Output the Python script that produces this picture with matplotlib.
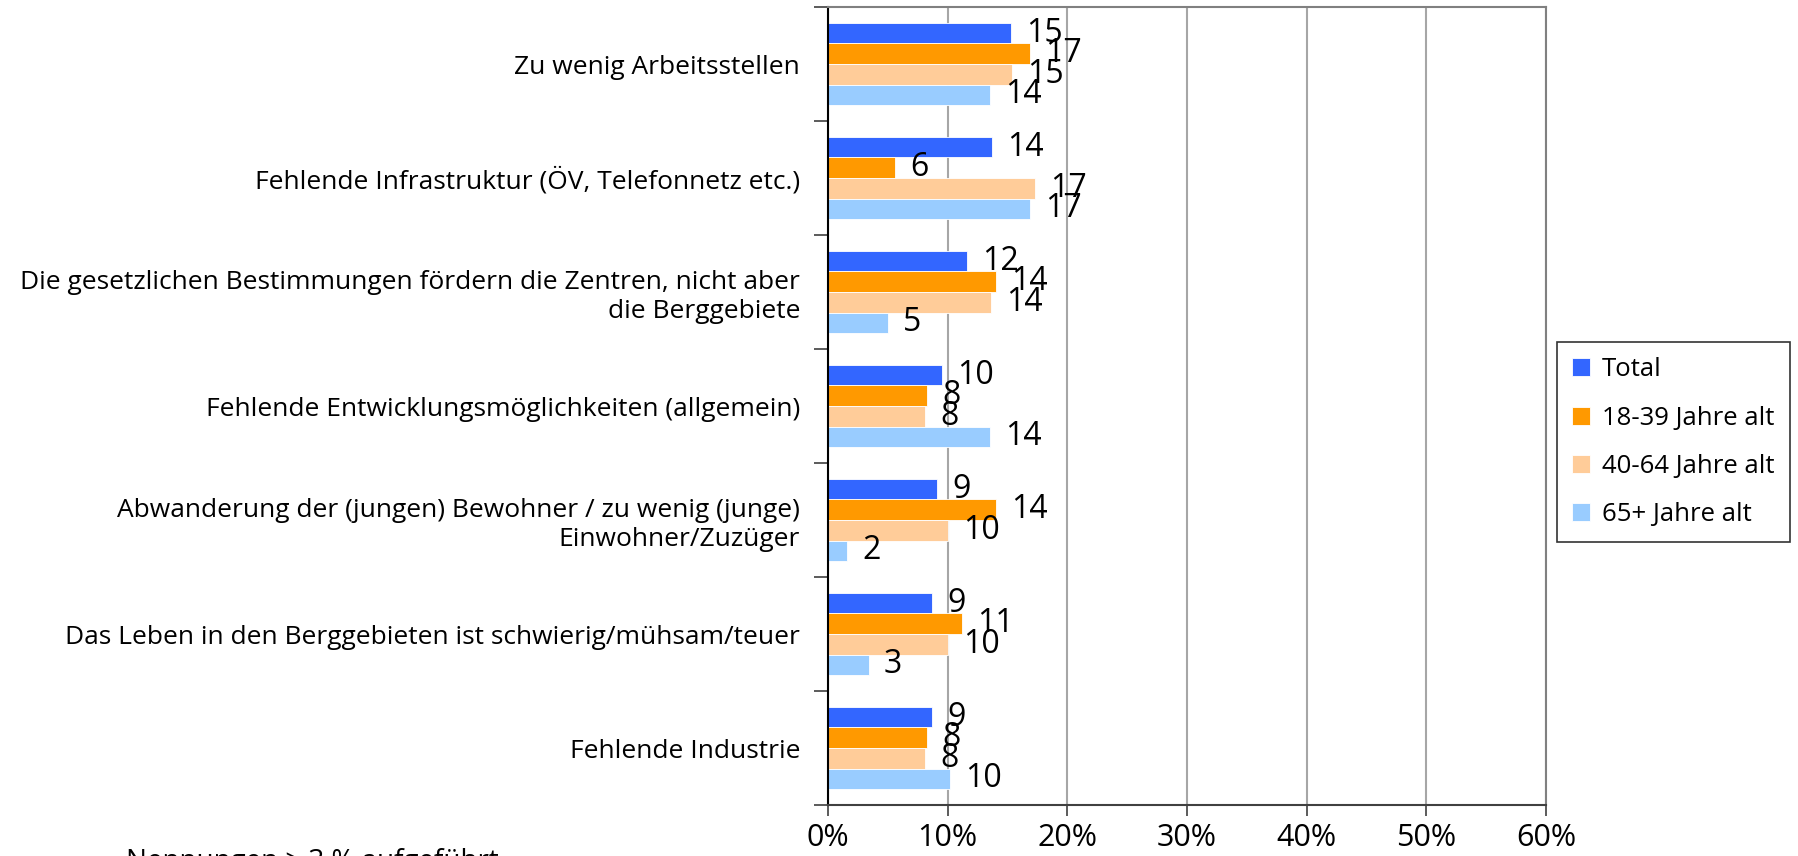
import matplotlib
matplotlib.use("Agg")
import matplotlib.pyplot as plt
import numpy as np

plt.rcParams['font.family'] = ['Open Sans', 'DejaVu Sans']

kategorien = [
    "Zu wenig Arbeitsstellen",
    "Fehlende Infrastruktur (ÖV, Telefonnetz etc.)",
    "Die gesetzlichen Bestimmungen fördern die Zentren, nicht aber\ndie Berggebiete",
    "Fehlende Entwicklungsmöglichkeiten (allgemein)",
    "Abwanderung der (jungen) Bewohner / zu wenig (junge)\nEinwohner/Zuzüger",
    "Das Leben in den Berggebieten ist schwierig/mühsam/teuer",
    "Fehlende Industrie",
]
serien = ["Total", "18-39 Jahre alt", "40-64 Jahre alt", "65+ Jahre alt"]
total = [15.3, 13.7, 11.6, 9.5, 9.1, 8.7, 8.7]
jung = [16.9, 5.6, 14.0, 8.3, 14.0, 11.2, 8.3]
mittel = [15.4, 17.3, 13.6, 8.1, 10.0, 10.0, 8.1]
alt = [13.5, 16.9, 5.0, 13.5, 1.6, 3.4, 10.2]
farben = ["#3366FF", "#FF9900", "#FFCC99", "#99CCFF"]

fig = plt.figure(figsize=(17.98, 8.56), dpi=100)
ax = fig.add_axes([828/1798, 1-805/856, (1546-828)/1798, (805-7)/856])

y = np.arange(len(kategorien))
h = 0.18
for i, (werte, farbe, name) in enumerate(zip([total, jung, mittel, alt], farben, serien)):
    pos = y + (i - 1.5) * h
    ax.barh(pos, werte, height=h, color=farbe, edgecolor='white', linewidth=0.6, label=name)
    for p, w in zip(pos, werte):
        ax.annotate(f"{w:.0f}", (w, p), xytext=(11, 0), textcoords='offset points',
                    va='center', ha='left', fontsize=23)

ax.set_xlim(0, 60)
ax.set_ylim(len(kategorien) - 0.5, -0.5)
ax.set_xticks(np.arange(0, 61, 10))
ax.set_xticklabels([f"{v}%" for v in range(0, 61, 10)], fontsize=22)
ax.set_yticks(y)
ax.set_yticklabels(kategorien, fontsize=19, ha='right')
ax.tick_params(axis='y', length=0, pad=20)
ax.set_yticks(np.arange(-0.5, len(kategorien), 1), minor=True)
ax.tick_params(axis='y', which='minor', length=10, width=1.2, color='#404040')
ax.tick_params(axis='x', length=8, width=1.2, color='#404040', pad=5)
ax.xaxis.grid(True, color='#A6A6A6', linewidth=1.5)
ax.set_axisbelow(True)
for s in ['top', 'right']:
    ax.spines[s].set_color('#808080')
    ax.spines[s].set_linewidth(1.5)
ax.spines['left'].set_color('#000000')
ax.spines['left'].set_linewidth(1.5)
ax.spines['bottom'].set_color('#404040')
ax.spines['bottom'].set_linewidth(1.5)

leg = fig.legend(loc='upper left', bbox_to_anchor=(1557/1798, 1-342/856), fontsize=18.5,
                 frameon=True, fancybox=False, edgecolor='black', handlelength=0.7,
                 handleheight=0.7, handletextpad=0.45, labelspacing=0.9, borderpad=0.6,
                 borderaxespad=0)
leg.get_frame().set_linewidth(1.2)

fig.text(126/1798, 1-848/856, "Nennungen > 3 % aufgeführt", fontsize=20, va='top', ha='left')

fig.savefig("out.png", dpi=100)
